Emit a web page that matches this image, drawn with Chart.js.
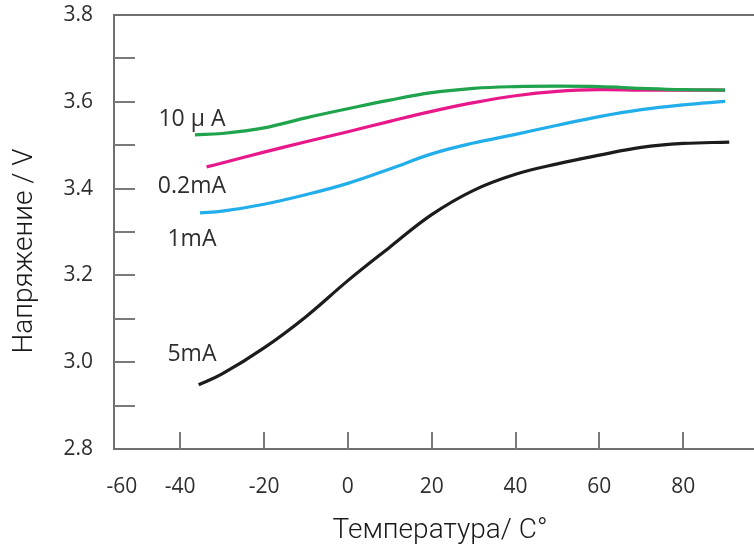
<!DOCTYPE html>
<html><head><meta charset="utf-8">
<script src="https://cdn.jsdelivr.net/npm/chart.js@4/dist/chart.umd.min.js"></script>
<style>html,body{margin:0;padding:0;background:#fff}#wrap{width:754px;height:545px}</style>
</head><body><div id="wrap"><canvas id="c" width="754" height="545"></canvas></div>
<script>
// ---- data ----
const xTickLabels = [-60, -40, -20, 0, 20, 40, 60, 80];
const yTickValues = [2.8, 2.9, 3.0, 3.1, 3.2, 3.3, 3.4, 3.5, 3.6, 3.7, 3.8];
const yTickLabels = ['2.8', '3.0', '3.2', '3.4', '3.6', '3.8'];
const seriesNames = ['10 µ A', '0.2mA', '1mA', '5mA'];

const temp10uA = [-36.5, -30, -20, -10, 0, 10, 20, 30, 40, 50, 60, 70, 80, 90];
const volt10uA = [3.524, 3.527, 3.540, 3.563, 3.584, 3.604, 3.621, 3.631, 3.635, 3.636, 3.635, 3.631, 3.628, 3.627];

const temp02mA = [-33.7, -30, -20, -10, 0, 10, 20, 30, 40, 50, 60, 70, 80, 90];
const volt02mA = [3.450, 3.459, 3.484, 3.508, 3.531, 3.555, 3.578, 3.598, 3.614, 3.624, 3.628, 3.627, 3.627, 3.627];

const temp1mA = [-35.3, -30, -20, -10, 0, 10, 20, 30, 40, 50, 60, 70, 80, 90];
const volt1mA = [3.344, 3.348, 3.364, 3.386, 3.412, 3.445, 3.480, 3.505, 3.525, 3.546, 3.566, 3.582, 3.593, 3.601];

const temp5mA = [-35.6, -30, -20, -10, 0, 10, 20, 30, 40, 50, 60, 70, 80, 91];
const volt5mA = [2.948, 2.973, 3.033, 3.105, 3.188, 3.265, 3.340, 3.396, 3.433, 3.457, 3.477, 3.495, 3.504, 3.507];

// curve label anchors (data units: temperature, voltage)
const labelTemp = [-37.2, -37.2, -37.2, -37.2];
const labelVolt = [3.559, 3.404, 3.282, 3.017];

const xMin = -55.8, xMax = 96.9, yMin = 2.8, yMax = 3.8;

// ---- build ----
const pts = (xs, ys) => xs.map((x, i) => ({x, y: ys[i]}));
const colors = ['#1fa34c', '#e8178a', '#22aeea', '#1c1c1c'];
const seriesData = [pts(temp10uA, volt10uA), pts(temp02mA, volt02mA), pts(temp1mA, volt1mA), pts(temp5mA, volt5mA)];

const datasets = seriesData.map((d, i) => ({
  label: seriesNames[i], data: d, borderColor: colors[i], borderWidth: 3.2,
  pointRadius: 0, fill: false, tension: 0.4, borderCapStyle: 'butt'
}));

const TICK_FONT = {family: '"Open Sans"', size: 21};

const zeroPad = s => { s.paddingTop = 0; s.paddingBottom = 0; s.paddingLeft = 0; s.paddingRight = 0; };

const decor = {
  id: 'decor',
  afterDraw(chart) {
    const {ctx, chartArea: a, scales: {x, y}} = chart;
    ctx.save();
    ctx.strokeStyle = '#6f6f6f'; ctx.lineWidth = 2;
    // top border
    ctx.beginPath(); ctx.moveTo(a.left - 1, a.top); ctx.lineTo(a.right, a.top); ctx.stroke();
    // inward y ticks
    ctx.strokeStyle = '#7a7a7a';
    y.ticks.forEach(t => {
      if (t.value <= y.min + 1e-9 || t.value >= y.max - 1e-9) return;
      const py = Math.round(y.getPixelForValue(t.value));
      ctx.beginPath(); ctx.moveTo(a.left, py); ctx.lineTo(a.left + 21, py); ctx.stroke();
    });
    // inward x ticks
    x.ticks.forEach(t => {
      if (t.value <= x.min + 3) return;
      const px = Math.round(x.getPixelForValue(t.value));
      ctx.beginPath(); ctx.moveTo(px, a.bottom); ctx.lineTo(px, a.bottom - 17); ctx.stroke();
    });
    // curve labels
    ctx.fillStyle = '#2e2e2e'; ctx.font = '23px "Open Sans"';
    ctx.textAlign = 'center'; ctx.textBaseline = 'middle';
    seriesNames.forEach((n, i) => {
      ctx.fillText(n, x.getPixelForValue(labelTemp[i]), y.getPixelForValue(labelVolt[i]));
    });
    // axis titles
    ctx.fillStyle = '#1a1a1a'; ctx.font = '300 28px Roboto';
    ctx.fillText('Температура/ С°', (a.left + a.right) / 2 + 6, 531);
    ctx.save();
    ctx.translate(25, (a.top + a.bottom) / 2 + 19);
    ctx.rotate(-Math.PI / 2);
    ctx.fillText('Напряжение / V', 0, 0);
    ctx.restore();
    ctx.restore();
  }
};

new Chart(document.getElementById('c'), {
  type: 'line',
  data: {datasets},
  plugins: [decor],
  options: {
    responsive: false, animation: false, devicePixelRatio: 1,
    layout: {padding: {top: 15, right: 0, left: 0, bottom: 0}},
    plugins: {legend: {display: false}, tooltip: {enabled: false}},
    scales: {
      x: {
        type: 'linear', min: xMin, max: xMax,
        afterBuildTicks: s => { s.ticks = xTickLabels.map(v => ({value: Math.max(v, s.min + 1.9)})); },
        afterFit: s => { s.height = 96; zeroPad(s); },
        grid: {display: false, drawTicks: false},
        border: {display: true, color: '#6f6f6f', width: 2},
        ticks: {color: '#2e2e2e', font: TICK_FONT, padding: 25, maxRotation: 0, autoSkip: false,
          callback: (v, i) => String(xTickLabels[i])}
      },
      y: {
        type: 'linear', min: yMin, max: yMax,
        afterBuildTicks: s => { s.ticks = yTickValues.map(v => ({value: v})); },
        afterFit: s => { s.width = 114; zeroPad(s); },
        grid: {display: false, drawTicks: false},
        border: {display: true, color: '#6f6f6f', width: 2},
        ticks: {color: '#2e2e2e', font: TICK_FONT, padding: 21, autoSkip: false,
          callback: v => { const s = Number(v).toFixed(1); return yTickLabels.includes(s) ? s : ''; }}
      }
    }
  }
});
</script></body></html>
